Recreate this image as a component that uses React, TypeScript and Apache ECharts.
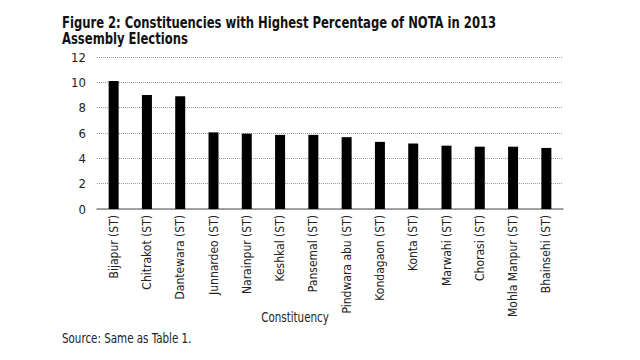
import React, { useEffect, useRef } from "react";
import * as echarts from "echarts";

const categories = [
  "Bijapur (ST)",
  "Chitrakot (ST)",
  "Dantewara (ST)",
  "Junnardeo (ST)",
  "Narainpur (ST)",
  "Keshkal (ST)",
  "Pansemal (ST)",
  "Pindwara abu (ST)",
  "Kondagaon (ST)",
  "Konta (ST)",
  "Marwahi (ST)",
  "Chorasi (ST)",
  "Mohla Manpur (ST)",
  "Bhainsehi (ST)",
];
const notaPercent = [10.1, 9.0, 8.9, 6.05, 5.95, 5.85, 5.85, 5.67, 5.3, 5.17, 5.0, 4.92, 4.92, 4.82];

const titleLine1 = "Figure 2: Constituencies with Highest Percentage of NOTA in 2013";
const titleLine2 = "Assembly Elections";
const xAxisName = "Constituency";
const sourceText = "Source: Same as Table 1.";

const FONT = "'DejaVu Sans Condensed', sans-serif";

export default function App() {
  const ref = useRef<HTMLDivElement>(null);
  useEffect(() => {
    if (!ref.current) return;
    const chart = echarts.init(ref.current, null, { renderer: "svg" });
    chart.setOption({
      animation: false,
      backgroundColor: "#ffffff",
      grid: { left: 97, right: 77, top: 57, bottom: 151, containLabel: false },
      xAxis: {
        type: "category",
        data: categories,
        axisLine: { lineStyle: { color: "#888", width: 1.5 } },
        axisTick: { show: false },
        axisLabel: {
          rotate: 90,
          interval: 0,
          margin: 6,
          fontFamily: FONT,
          fontSize: 12,
          color: "#222",
        },
      },
      yAxis: {
        type: "value",
        min: 0,
        max: 12,
        interval: 2,
        axisLine: { show: false },
        axisTick: { show: false },
        axisLabel: { fontFamily: FONT, fontSize: 13, color: "#222", margin: 11 },
        splitLine: { lineStyle: { color: "#999", type: [1, 1], width: 1.2 } },
      },
      series: [
        {
          type: "bar",
          data: notaPercent,
          barWidth: 10,
          itemStyle: { color: "#000" },
        },
      ],
      graphic: [
        {
          type: "text",
          x: 62,
          y: 14,
          scaleX: 0.806,
          style: { text: titleLine1, fontFamily: FONT, fontWeight: "bold", fontSize: 16, fill: "#111" },
        },
        {
          type: "text",
          x: 62,
          y: 30,
          scaleX: 0.806,
          style: { text: titleLine2, fontFamily: FONT, fontWeight: "bold", fontSize: 16, fill: "#111" },
        },
        {
          type: "text",
          x: 295,
          y: 317,
          scaleX: 0.82,
          style: {
            text: xAxisName,
            fontFamily: FONT,
            fontSize: 14,
            fill: "#222",
            align: "center",
            verticalAlign: "middle",
          },
        },
        {
          type: "text",
          x: 62,
          y: 338,
          scaleX: 0.82,
          style: { text: sourceText, fontFamily: FONT, fontSize: 14, fill: "#222", verticalAlign: "middle" },
        },
      ],
    });
    return () => chart.dispose();
  }, []);
  return <div ref={ref} style={{ position: "fixed", left: 0, top: 0, width: 640, height: 360 }} />;
}
